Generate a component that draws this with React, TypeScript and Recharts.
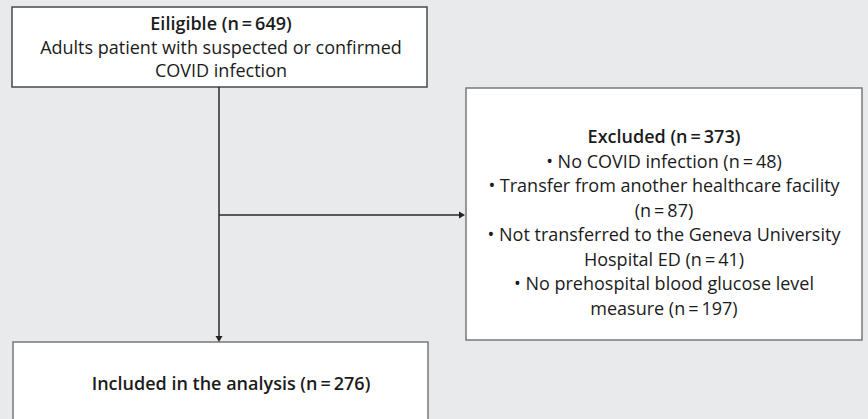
import React from "react";
import {
  ScatterChart,
  Scatter,
  XAxis,
  YAxis,
  ReferenceArea,
  ReferenceLine,
} from "recharts";

// flow counts
const eligibleCount = 649;
const excludedCount = 373;
const includedCount = 276;

const exclusionReasons = [
  { label: "No COVID infection", n: 48 },
  { label: "Transfer from another healthcare facility", n: 87 },
  { label: "Not transferred to the Geneva University Hospital ED", n: 41 },
  { label: "No prehospital blood glucose level measure", n: 197 },
];

const nLabel = (n: number) => `(n\u2009=\u2009${n})`;

// layout (svg pixel space, y grows downward)
const W = 868;
const H = 419;

const boxes = [
  { id: "eligible", x1: 12, x2: 427, y1: 7, y2: 87, stroke: "#4a4a4a" },
  { id: "excluded", x1: 466, x2: 862, y1: 88, y2: 340, stroke: "#7a7a7a" },
  { id: "included", x1: 13, x2: 428, y1: 342, y2: 440, stroke: "#7a7a7a" },
];

const connectors = [
  { from: { x: 219, y: 87 }, to: { x: 219, y: 336 } },
  { from: { x: 219, y: 215 }, to: { x: 459, y: 215 } },
];

const arrowHeads = [
  { x: 219, y: 342, dir: "down" },
  { x: 465, y: 215, dir: "right" },
];

// text blocks, each wrapped the way the reference wraps them
const eligibleText = [
  { t: `Eiligible ${nLabel(eligibleCount)}`, bold: true },
  { t: "Adults patient with suspected or confirmed", bold: false },
  { t: "COVID infection", bold: false },
];

const excludedText = [
  { t: `Excluded ${nLabel(excludedCount)}`, bold: true },
  { t: `\u2022 ${exclusionReasons[0].label} ${nLabel(exclusionReasons[0].n)}`, bold: false },
  { t: `\u2022 ${exclusionReasons[1].label}`, bold: false },
  { t: nLabel(exclusionReasons[1].n), bold: false },
  { t: "\u2022 Not transferred to the Geneva University", bold: false },
  { t: `Hospital ED ${nLabel(exclusionReasons[2].n)}`, bold: false },
  { t: "\u2022 No prehospital blood glucose level", bold: false },
  { t: `measure ${nLabel(exclusionReasons[3].n)}`, bold: false },
];

const includedText = [
  { t: `Included in the analysis ${nLabel(includedCount)}`, bold: true },
];

const blocks = [
  { lines: eligibleText, cx: 221, y0: 23, step: 23.5 },
  { lines: excludedText, cx: 664, y0: 136, step: 24.5 },
  { lines: includedText, cx: 231, y0: 383, step: 0 },
];

const textPoints = blocks.flatMap((b) =>
  b.lines.map((l, i) => ({ x: b.cx, y: b.y0 + i * b.step, t: l.t, bold: l.bold }))
);

const FONT = "'Open Sans', 'Noto Sans', sans-serif";

const TextShape = (props: any) => {
  const { cx, cy, payload } = props;
  return (
    <text
      x={cx}
      y={cy}
      textAnchor="middle"
      dominantBaseline="central"
      fontFamily={FONT}
      fontSize={18}
      fontWeight={payload.bold ? 600 : 400}
      fill="#1b1b1b"
    >
      {payload.t}
    </text>
  );
};

const ArrowShape = (props: any) => {
  const { cx, cy, payload } = props;
  const s = 6;
  const pts =
    payload.dir === "down"
      ? `${cx - 3.5},${cy - s} ${cx + 3.5},${cy - s} ${cx},${cy}`
      : `${cx - s},${cy - 3.5} ${cx - s},${cy + 3.5} ${cx},${cy}`;
  return <polygon points={pts} fill="#222" />;
};

export default function App() {
  return (
    <div
      style={{
        position: "fixed",
        left: 0,
        top: 0,
        width: W,
        height: H,
        background: "#e9eaeb",
        overflow: "hidden",
      }}
    >
      <ScatterChart width={W} height={H} margin={{ top: 0, right: 0, bottom: 0, left: 0 }}>
        <XAxis type="number" dataKey="x" domain={[0, W]} hide allowDataOverflow />
        <YAxis type="number" dataKey="y" domain={[0, H]} reversed hide allowDataOverflow />
        {boxes.map((b) => (
          <ReferenceArea
            key={b.id}
            x1={b.x1}
            x2={b.x2}
            y1={b.y1}
            y2={b.y2}
            fill="#ffffff"
            fillOpacity={1}
            stroke={b.stroke}
            strokeWidth={1.5}
            ifOverflow="visible"
          />
        ))}
        {connectors.map((c, i) => (
          <ReferenceLine
            key={i}
            segment={[c.from, c.to]}
            stroke="#2a2a2a"
            strokeWidth={1.5}
            ifOverflow="visible"
          />
        ))}
        <Scatter data={arrowHeads} shape={ArrowShape} isAnimationActive={false} />
        <Scatter data={textPoints} shape={TextShape} isAnimationActive={false} />
      </ScatterChart>
    </div>
  );
}
